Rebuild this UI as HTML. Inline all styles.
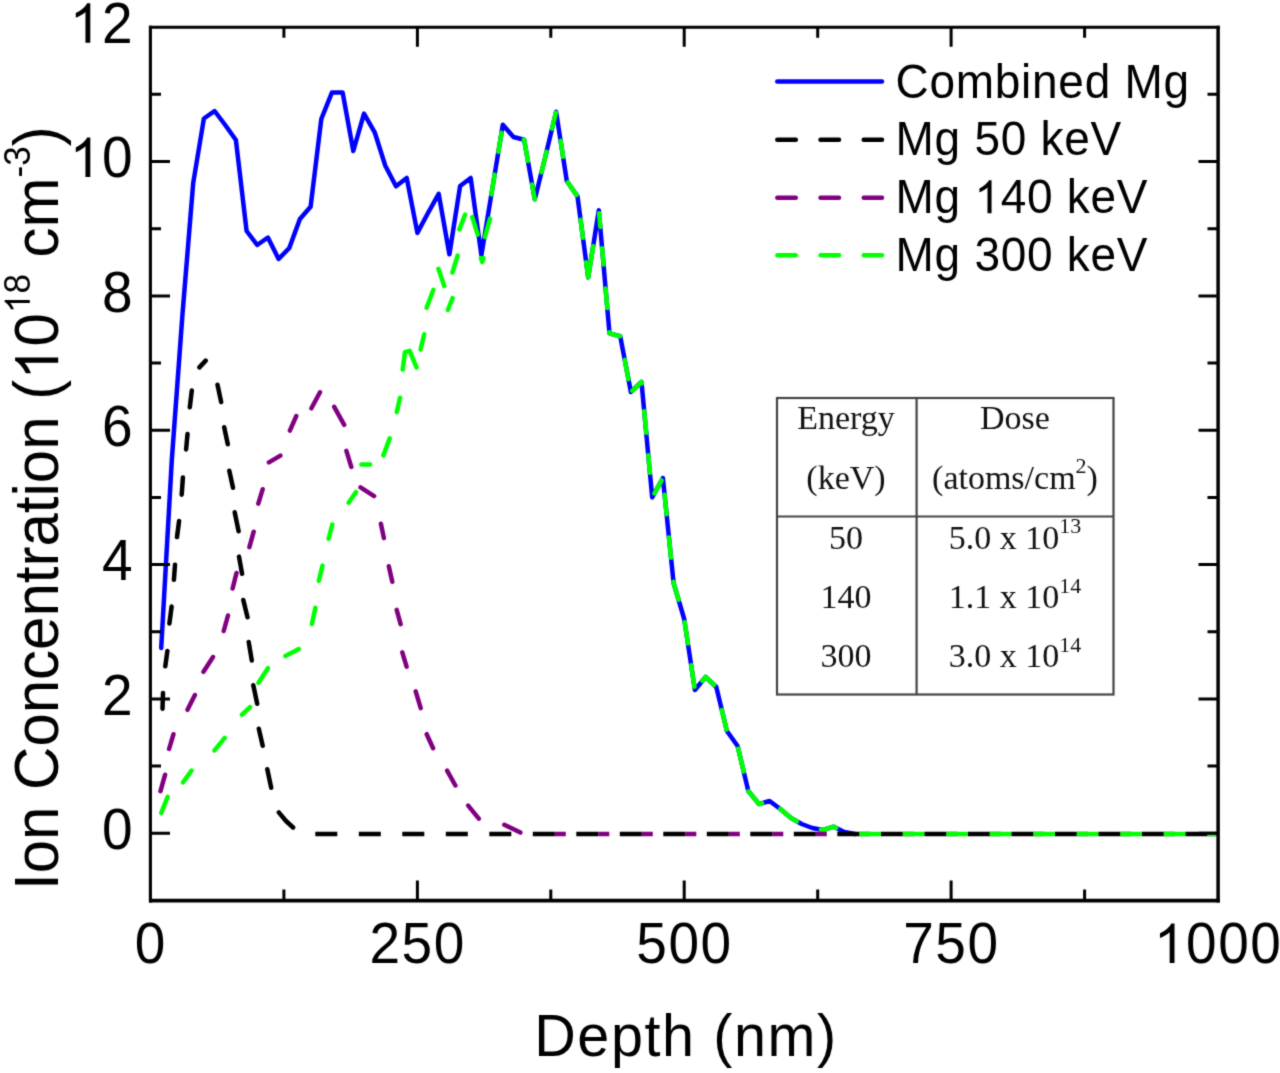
<!DOCTYPE html>
<html><head><meta charset="utf-8"><style>
html,body{margin:0;padding:0;background:#fff;}
body{width:1280px;height:1073px;overflow:hidden;position:relative;}
svg{position:absolute;left:0;top:0;}
.s{font-family:"Liberation Sans",sans-serif;fill:#000;}
.t{font-family:"Liberation Serif",serif;fill:#111;}
.h{fill:none;}
</style></head><body>
<svg width="1280" height="1073" viewBox="0 0 1280 1073">
<defs><filter id="soft" x="0" y="0" width="1280" height="1073" filterUnits="userSpaceOnUse" color-interpolation-filters="sRGB"><feConvolveMatrix order="3" kernelMatrix="0.025 0.1 0.025 0.1 0.5 0.1 0.025 0.1 0.025" edgeMode="duplicate"/></filter></defs>
<g filter="url(#soft)">
<rect x="0" y="0" width="1280" height="1073" fill="#fff"/>
<g fill="none" stroke-linejoin="round" stroke-linecap="round" stroke-width="4.5">
<polyline points="161.2,648.0 171.8,460.0 182.5,314.0 193.2,183.0 203.9,118.5 214.6,111.0 225.2,125.0 235.9,140.0 246.6,231.0 257.2,245.0 267.9,237.5 278.6,259.0 289.3,248.0 299.9,219.0 310.6,206.7 321.3,119.0 332.0,92.4 342.6,92.4 353.3,151.0 364.0,113.6 374.7,132.3 385.3,165.8 396.0,186.3 406.7,177.9 417.4,232.9 428.0,213.0 438.7,193.8 449.4,254.3 460.1,186.0 470.7,178.0 481.4,255.2 492.1,190.0 502.8,124.8 513.5,137.0 524.1,139.7 534.8,199.3 545.5,156.0 556.1,111.8 566.8,181.0 577.5,196.4 588.2,277.5 598.8,210.3 609.5,333.4 620.2,336.2 630.9,392.0 641.5,382.0 652.2,497.4 662.9,478.0 673.6,583.0 684.2,619.0 694.9,690.0 705.6,677.0 716.3,687.0 726.9,731.0 737.6,746.0 748.3,791.0 759.0,804.0 769.6,801.0 780.3,809.0 791.0,818.0 801.7,824.0 812.3,828.0 823.0,830.0 833.7,826.7 844.4,832.0 855.0,834.0" stroke="#0000ff"/>
<path d="M162.5,708.8L163.0,692.9M165.3,666.2L167.4,651.0M169.4,623.4L171.6,606.6M173.9,579.8L175.0,564.7M177.0,537.1L179.1,520.9M181.7,494.7L182.9,477.5M186.1,449.4L187.5,434.1M189.8,407.2L191.8,390.5M199.4,367.4L205.7,360.6M217.5,384.8L221.2,402.1M224.2,427.2L227.8,444.2M229.3,470.8L233.0,487.8M234.7,512.2L238.6,531.3M239.0,556.6L242.1,573.8M243.3,600.0L247.5,617.2M248.7,642.0L251.8,660.5M253.3,685.2L257.2,703.8M258.8,728.7L262.7,745.8M267.3,769.2L271.2,787.8M278.8,812.4L286.0,821.0L293.1,827.5" stroke="#000"/>
<path d="M160.5,791.2L165.1,774.7M169.1,748.9L173.5,734.2M187.5,709.8L194.9,695.0M203.5,671.8L213.0,657.0M223.7,631.0L228.0,615.5M232.6,588.5L236.5,573.0M249.4,547.2L253.7,531.7M258.3,503.6L262.7,489.2M268.9,462.4L280.4,455.6M289.9,430.6L296.3,416.0M311.4,408.3L320.0,392.3M334.2,406.8L344.2,424.9M346.4,450.8L351.3,466.9M360.5,487.4L374.1,496.1M380.9,523.7L383.9,538.1M388.8,566.2L392.3,581.7M396.7,609.8L400.6,624.2M402.3,652.3L406.6,666.7M415.7,691.4L420.7,708.1M426.7,734.2L433.1,748.2M447.1,770.6L455.4,785.5M468.2,805.6L478.8,818.7M504.3,824.8L520.4,832.6" stroke="#800080"/>
<path d="M161.3,812.9L167.6,796.8M183.1,782.3L191.5,770.6M214.5,750.4L224.7,737.9M242.0,714.6L250.0,707.1M258.5,682.8L267.9,668.2M285.4,655.9L298.8,649.1M311.9,623.9L315.4,607.7M318.8,580.8L322.5,565.6M328.6,538.7L332.3,524.5M348.6,502.7L356.0,492.0M361.4,464.4L370.1,464.4M383.4,455.4L389.7,438.4M396.8,412.1L400.0,397.7M402.7,369.6L404.9,352.2L409.6,350.8L416.5,367.4M420.6,349.6L424.2,334.2M426.6,307.7L433.4,289.8M438.4,268.8L444.3,285.9M447.9,309.9L452.6,298.1M452.4,272.5L457.6,255.6M459.4,229.4L465.1,214.6M472.3,217.1L477.7,234.6M480.9,258.1L482.2,262.0L483.6,258.1M484.9,237.1L490.0,218.6" stroke="#00ff00"/>
<path d="M491.4,194.4L492.1,190.0L494.6,174.6M498.4,151.8L501.5,132.8M523.8,139.6L524.1,139.7L527.9,160.9M532.1,184.5L534.8,199.3L534.9,198.7M541.5,172.2L545.5,156.0L546.5,151.7M552.1,128.6L555.9,112.6M560.6,140.7L563.1,156.8M567.8,182.4L576.5,195.0M580.6,219.7L582.9,237.7M586.2,262.3L588.2,277.5L593.2,246.1M599.1,213.2L600.3,226.9M602.1,248.2L603.6,264.5M605.6,288.6L607.3,308.1M609.4,332.2L609.5,333.4L620.1,336.2M624.7,359.9L628.4,379.2M632.2,390.8L641.5,382.0L641.7,383.5M644.2,411.2L646.3,432.8M648.3,455.2L649.9,472.8M654.4,493.5L661.6,480.4M664.6,494.7L666.6,514.2M668.9,537.4L671.0,557.8M673.4,581.7L673.6,583.0L678.6,599.8M684.7,622.2L687.9,643.5M691.2,665.2L694.4,686.7M702.4,680.9L705.6,677.0L714.0,684.9M721.8,710.0L726.6,729.6M738.2,748.6L743.7,771.6M748.5,791.3L759.0,804.0L762.1,803.1M780.3,809.0L780.3,809.0L791.0,818.0L796.8,821.3M820.9,829.6L823.0,830.0L833.7,826.7L836.1,827.9" stroke="#00ff00"/>
<g stroke-linecap="butt">
<path d="M554.8,834.0H565.8M598.3,834.0H609.3M641.8,834.0H652.8M685.3,834.0H696.3M728.8,834.0H739.8M772.3,834.0H783.3M815.8,834.0H826.8M859.3,834.0H870.3M902.8,834.0H913.8M946.3,834.0H957.3M989.8,834.0H1000.8M1033.3,834.0H1044.3M1076.8,834.0H1087.8M1120.3,834.0H1131.3M1163.8,834.0H1174.8M1207.3,834.0H1216.5" stroke="#800080"/>
<path d="M315.3,834.0H337.3M358.8,834.0H380.8M402.3,834.0H424.3M445.8,834.0H467.8M489.3,834.0H511.3M532.8,834.0H554.8M576.3,834.0H598.3M619.8,834.0H641.8M663.3,834.0H685.3M706.8,834.0H728.8M750.3,834.0H772.3M793.8,834.0H815.8M837.3,834.0H859.3M880.8,834.0H902.8M924.3,834.0H946.3M967.8,834.0H989.8M1011.3,834.0H1033.3M1054.8,834.0H1076.8M1098.3,834.0H1120.3M1141.8,834.0H1163.8M1185.3,834.0H1207.3" stroke="#000"/>
<path d="M859.3,834.0H880.8M902.8,834.0H924.3M946.3,834.0H967.8M989.8,834.0H1011.3M1033.3,834.0H1054.8M1076.8,834.0H1098.3M1120.3,834.0H1141.8M1163.8,834.0H1185.3M1207.3,834.0H1216.5" stroke="#00ff00"/>
</g>
</g>
<g stroke="#000" fill="none">
<path d="M149.0,27.2H1219.75" stroke-width="3"/>
<path d="M149.0,900.7H1219.75" stroke-width="3.8"/>
<path d="M150.4,25.7V902.6" stroke-width="3.1"/>
<path d="M1218.1,25.7V902.6" stroke-width="3.5"/>
</g>
<path d="M150.5,833.3h19.5M1218.0,833.3h-19.5M150.5,766.1h10.5M1218.0,766.1h-10.5M150.5,698.9h19.5M1218.0,698.9h-19.5M150.5,631.8h10.5M1218.0,631.8h-10.5M150.5,564.6h19.5M1218.0,564.6h-19.5M150.5,497.4h10.5M1218.0,497.4h-10.5M150.5,430.2h19.5M1218.0,430.2h-19.5M150.5,363.0h10.5M1218.0,363.0h-10.5M150.5,295.9h19.5M1218.0,295.9h-19.5M150.5,228.7h10.5M1218.0,228.7h-10.5M150.5,161.5h19.5M1218.0,161.5h-19.5M150.5,94.3h10.5M1218.0,94.3h-10.5M283.9,900.0v-10.5M283.9,27.2v10.5M417.4,900.0v-19.5M417.4,27.2v19.5M550.8,900.0v-10.5M550.8,27.2v10.5M684.2,900.0v-19.5M684.2,27.2v19.5M817.7,900.0v-10.5M817.7,27.2v10.5M951.1,900.0v-19.5M951.1,27.2v19.5M1084.6,900.0v-10.5M1084.6,27.2v10.5" stroke="#000" stroke-width="3" fill="none"/>
<g class="s" font-size="55" letter-spacing="1.5"><g transform="translate(134,848.9) scale(1,1.04)"><text x="0" y="0" text-anchor="end">0</text></g><g transform="translate(134,714.5) scale(1,1.04)"><text x="0" y="0" text-anchor="end">2</text></g><g transform="translate(134,580.2) scale(1,1.04)"><text x="0" y="0" text-anchor="end">4</text></g><g transform="translate(134,445.8) scale(1,1.04)"><text x="0" y="0" text-anchor="end">6</text></g><g transform="translate(134,311.5) scale(1,1.04)"><text x="0" y="0" text-anchor="end">8</text></g><g transform="translate(134,177.1) scale(1,1.04)"><text x="0" y="0" text-anchor="end"><tspan class="h">1</tspan>0</text></g><g transform="translate(134,42.7) scale(1,1.04)"><text x="0" y="0" text-anchor="end"><tspan class="h">1</tspan>2</text></g><g transform="translate(150.8,963) scale(1,1.04)"><text x="0" y="0" text-anchor="middle">0</text></g><g transform="translate(417.6,963) scale(1,1.04)"><text x="0" y="0" text-anchor="middle">250</text></g><g transform="translate(684.5,963) scale(1,1.04)"><text x="0" y="0" text-anchor="middle">500</text></g><g transform="translate(951.4,963) scale(1,1.04)"><text x="0" y="0" text-anchor="middle">750</text></g><g transform="translate(1218.2,963) scale(1,1.04)"><text x="0" y="0" text-anchor="middle"><tspan class="h">1</tspan>000</text></g></g>
<g class="s" transform="translate(686,1056.2) scale(1,1.04)"><text font-size="57.5" letter-spacing="1.6" x="0" y="0" text-anchor="middle">Depth (nm)</text></g>
<g class="s" transform="translate(58.2,890) rotate(-90) scale(1,1.04)">
<text font-size="60" x="0" y="0">Ion Concentration (<tspan class="h">1</tspan>0<tspan font-size="35" dy="-27.3"><tspan class="h">1</tspan>8</tspan><tspan dy="27.3"> cm</tspan><tspan font-size="35" dy="-27.3">-3</tspan><tspan dy="27.3">)</tspan></text>
</g>
<g fill="#000"><path transform="matrix(1.0000 0.0000 0.0000 1.0400 134.00 177.10) translate(-64.20,0.00) scale(0.02686,-0.02582)" d="M763,0L583,0L583,1147Q518,1085 412.5,1023Q307,961 223,930L223,1104Q374,1175 487,1276Q600,1377 647,1472L763,1472Z"/><path transform="matrix(1.0000 0.0000 0.0000 1.0400 134.00 42.70) translate(-64.20,0.00) scale(0.02686,-0.02582)" d="M763,0L583,0L583,1147Q518,1085 412.5,1023Q307,961 223,930L223,1104Q374,1175 487,1276Q600,1377 647,1472L763,1472Z"/><path transform="matrix(1.0000 0.0000 0.0000 1.0400 1218.20 963.00) translate(-64.19,0.00) scale(0.02686,-0.02582)" d="M763,0L583,0L583,1147Q518,1085 412.5,1023Q307,961 223,930L223,1104Q374,1175 487,1276Q600,1377 647,1472L763,1472Z"/><path transform="matrix(0.0000 -1.0000 1.0400 0.0000 58.20 890.00) translate(510.23,0.00) scale(0.02930,-0.02817)" d="M763,0L583,0L583,1147Q518,1085 412.5,1023Q307,961 223,930L223,1104Q374,1175 487,1276Q600,1377 647,1472L763,1472Z"/><path transform="matrix(0.0000 -1.0000 1.0400 0.0000 58.20 890.00) translate(576.97,-27.30) scale(0.01709,-0.01643)" d="M763,0L583,0L583,1147Q518,1085 412.5,1023Q307,961 223,930L223,1104Q374,1175 487,1276Q600,1377 647,1472L763,1472Z"/><path transform="matrix(1.0000 0.0000 0.0000 1.0400 895.60 213.20) translate(78.81,0.00) scale(0.02246,-0.02160)" d="M763,0L583,0L583,1147Q518,1085 412.5,1023Q307,961 223,930L223,1104Q374,1175 487,1276Q600,1377 647,1472L763,1472Z"/></g>
<!-- legend -->
<g fill="none" stroke-width="4.5" stroke-linecap="round">
<path d="M777.3,81.6H882" stroke="#0000ff"/>
<path d="M777.3,139.8H882" stroke="#000" stroke-dasharray="18.5 24.7"/>
<path d="M777.3,197.8H882" stroke="#800080" stroke-dasharray="18.5 24.7"/>
<path d="M777.3,255.2H882" stroke="#00ff00" stroke-dasharray="18.5 24.7"/>
</g>
<g class="s" font-size="46" letter-spacing="0.72">
<g transform="translate(895.6,97.5) scale(1,1.04)"><text x="0" y="0">Combined Mg</text></g>
<g transform="translate(895.6,155.0) scale(1,1.04)"><text x="0" y="0">Mg 50 keV</text></g>
<g transform="translate(895.6,213.2) scale(1,1.04)"><text x="0" y="0">Mg <tspan class="h">1</tspan>40 keV</text></g>
<g transform="translate(895.6,270.6) scale(1,1.04)"><text x="0" y="0">Mg 300 keV</text></g>
</g>
<!-- table -->
<g fill="none" stroke="#444" stroke-width="2.2">
<rect x="777" y="398" width="336.5" height="296.5"/>
<path d="M916.6,398V694.5M777,516.5H1113.5"/>
</g>
<g class="t" font-size="34" text-anchor="middle">
<text x="846" y="428.5">Energy</text>
<text x="846" y="488.5">(keV)</text>
<text x="1015" y="429">Dose</text>
<text x="1015" y="488.5">(atoms/cm<tspan font-size="22" dy="-15.5">2</tspan><tspan dy="15.5">)</tspan></text>
<text x="846" y="548.5">50</text>
<text x="846" y="608">140</text>
<text x="846" y="667">300</text>
<text x="1015" y="548.5">5.0 x 10<tspan font-size="22" dy="-15.5">13</tspan></text>
<text x="1015" y="608">1.1 x 10<tspan font-size="22" dy="-15.5">14</tspan></text>
<text x="1015" y="667">3.0 x 10<tspan font-size="22" dy="-15.5">14</tspan></text>
</g>
</g>
</svg>
</body></html>
